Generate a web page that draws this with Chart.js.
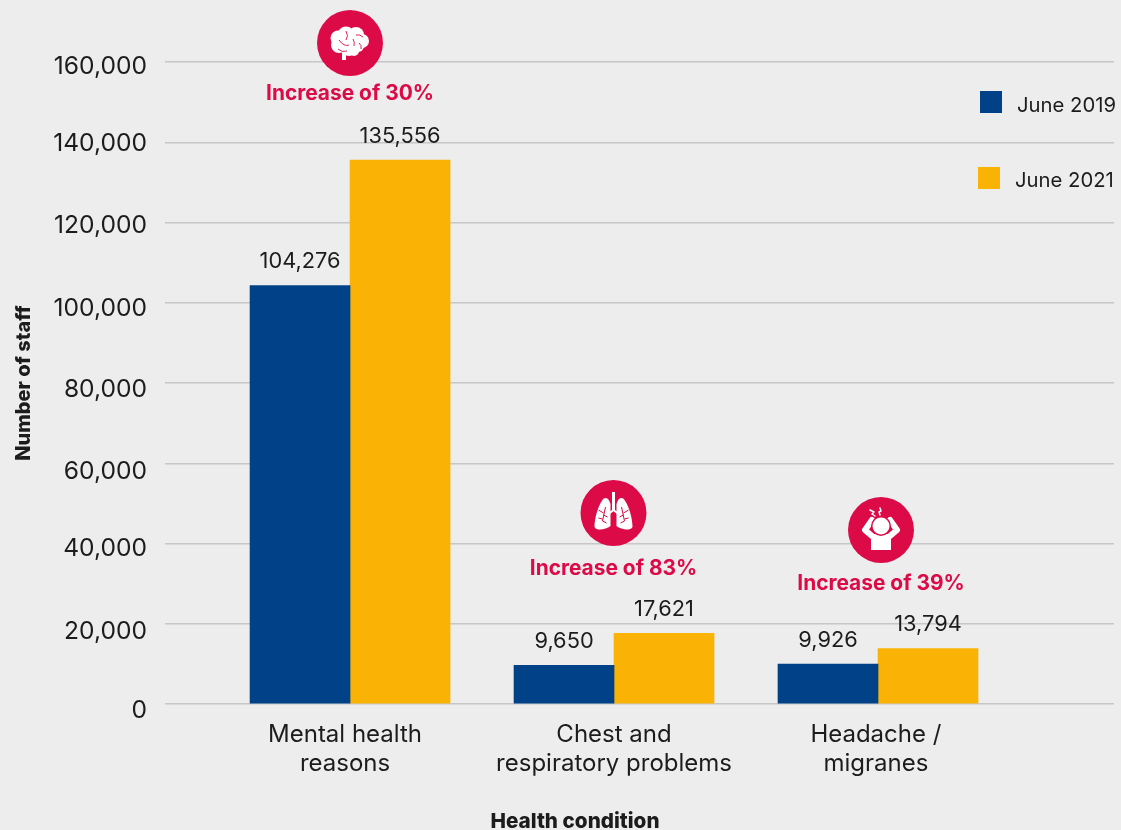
<!DOCTYPE html>
<html>
<head>
<meta charset="utf-8">
<title>Staff absence by health condition</title>
<script src="https://cdn.jsdelivr.net/npm/chart.js@4"></script>
<style>
    html, body { margin: 0; padding: 0; background: #ededed; overflow: hidden; }
    canvas { display: block; }
</style>
</head>
<body>
<canvas id="myChart" width="1121" height="830"></canvas>
<script>
const categories = [['Mental health', 'reasons'], ['Chest and', 'respiratory problems'], ['Headache /', 'migranes']];
const values2019 = [104276, 9650, 9926];
const values2021 = [135556, 17621, 13794];
const increases = ['Increase of 30%', 'Increase of 83%', 'Increase of 39%'];

const FONT = 'Inter, "Noto Sans", sans-serif';
const TEXT = '#1c1c1c';
const RED = '#dc0a47';
const NAVY = '#004187';
const GOLD = '#fab305';

// Центры подписей по оси X и сдвиг подписей оси Y вниз, снизу вверх
const xTickPositions = [0.981, 2, 2.992];
const yTickNudge = [7, 8, 5, 8, 7, 6, 3, 1, 5];

// Иконки рисуются относительно центра круга
function drawBrain(c) {
    c.fillStyle = '#fff';
    const blobs = [[-12, -5, 7.5], [-4, -8, 8.5], [6, -8, 8], [12, -2, 7], [-11, 2, 8], [0, 0, 10], [8, 3, 6], [-1, 6, 7], [4, 8, 5]];
    blobs.forEach(([x, y, r]) => { c.beginPath(); c.arc(x, y, r, 0, Math.PI * 2); c.fill(); });
    c.fillRect(-8, 8, 4, 9);
    c.strokeStyle = RED;
    c.lineWidth = 0.9;
    [[-11, -3, -6, 4, -1, 2], [-4, -12, -1, -7, -4, -3], [6, -8, 10, -9, 13, -6], [4, 3, 5, -1, 3, -4], [9, 0, 12, 2, 11, 6], [-12, 6, -8, 10, -3, 8]]
        .forEach(([a, b, d, e, f, g]) => {
            c.beginPath(); c.moveTo(a, b); c.quadraticCurveTo(d, e, f, g); c.stroke();
        });
}

function drawLungs(c) {
    c.fillStyle = '#fff';
    c.fillRect(-1.5, -21, 3, 18);
    [-1, 1].forEach((side) => {
        c.beginPath();
        c.moveTo(side * 3, -9);
        c.bezierCurveTo(side * 5, -16, side * 9, -16, side * 11, -13);
        c.bezierCurveTo(side * 16, -6, side * 19, 6, side * 19, 14);
        c.bezierCurveTo(side * 17, 18, side * 8, 17, side * 3, 13);
        c.closePath();
        c.fill();
        c.strokeStyle = '#fff';
        c.lineWidth = 2;
        c.beginPath(); c.moveTo(0, -3); c.lineTo(side * 5, 1); c.stroke();
        c.strokeStyle = RED;
        c.lineWidth = 1;
        c.beginPath();
        c.moveTo(side * 8, -6); c.lineTo(side * 11, 8);
        c.moveTo(side * 10, 0); c.lineTo(side * 15, -3);
        c.moveTo(side * 10, 2); c.lineTo(side * 6, 4);
        c.moveTo(side * 11, 6); c.lineTo(side * 15, 5);
        c.moveTo(side * 11, 8); c.lineTo(side * 7, 10);
        c.stroke();
    });
}

function drawHeadache(c) {
    c.fillStyle = '#fff';
    c.strokeStyle = '#fff';
    c.lineCap = 'round';
    c.lineJoin = 'round';
    c.fillRect(-10, 4, 20, 16);
    c.lineWidth = 6;
    c.beginPath(); c.moveTo(-9, 6); c.lineTo(-16, 0); c.lineTo(-9, -10); c.stroke();
    c.beginPath(); c.moveTo(9, 6); c.lineTo(16, 0); c.lineTo(9, -10); c.stroke();
    c.fillStyle = RED;
    c.beginPath(); c.arc(0, -4, 10, 0, Math.PI * 2); c.fill();
    c.fillStyle = '#fff';
    c.beginPath(); c.arc(0, -4, 8.5, 0, Math.PI * 2); c.fill();
    c.strokeStyle = '#fff';
    c.lineWidth = 1.5;
    c.beginPath();
    c.moveTo(-11, -20); c.lineTo(-7, -18); c.lineTo(-9, -16); c.lineTo(-6, -14);
    c.moveTo(-1, -22); c.lineTo(0, -19); c.lineTo(-2, -18); c.lineTo(-1, -15);
    c.stroke();
}

const badges = [
    { x: 350, y: 43, textY: 94, icon: drawBrain },
    { x: 613.5, y: 513, textY: 569, icon: drawLungs },
    { x: 881, y: 530, textY: 584, icon: drawHeadache },
];
const legendRows = [
    { boxX: 980, boxY: 91, textX: 1017, textY: 106 },
    { boxX: 978, boxY: 167, textX: 1015, textY: 181 },
];

// Подписи значений над столбцами, значки, легенда и подпись оси X
const overlays = {
    id: 'overlays',
    afterDatasetsDraw(chart) {
        const c = chart.ctx;
        c.save();
        c.textBaseline = 'middle';

        c.font = `21.8px ${FONT}`;
        c.fillStyle = TEXT;
        c.textAlign = 'center';
        chart.data.datasets.forEach((ds, i) => {
            chart.getDatasetMeta(i).data.forEach((bar, j) => {
                c.fillText(ds.data[j].y.toLocaleString('en-US'), bar.x, bar.y - 24);
            });
        });

        badges.forEach((b, i) => {
            c.fillStyle = RED;
            c.beginPath();
            c.arc(b.x, b.y, 33, 0, Math.PI * 2);
            c.fill();
            c.save();
            c.translate(b.x, b.y);
            b.icon(c);
            c.restore();
            c.fillStyle = RED;
            c.font = `bold 20.9px ${FONT}`;
            c.textAlign = 'center';
            c.fillText(increases[i], b.x, b.textY);
        });

        c.font = `20.3px ${FONT}`;
        c.textAlign = 'left';
        chart.data.datasets.forEach((ds, i) => {
            const row = legendRows[i];
            c.fillStyle = ds.backgroundColor;
            c.fillRect(row.boxX, row.boxY, 22, 22);
            c.fillStyle = TEXT;
            c.fillText(ds.label, row.textX, row.textY);
        });

        c.font = `800 20.7px ${FONT}`;
        c.textAlign = 'center';
        c.fillStyle = TEXT;
        c.fillText('Health condition', 575, 822);
        c.restore();
    },
};

new Chart(document.getElementById('myChart').getContext('2d'), {
    type: 'bar',
    data: {
        datasets: [
            { label: 'June 2019', data: values2019.map((y, i) => ({ x: i + 1, y })), backgroundColor: NAVY },
            { label: 'June 2021', data: values2021.map((y, i) => ({ x: i + 1, y })), backgroundColor: GOLD },
        ],
    },
    plugins: [overlays],
    options: {
        responsive: false,
        animation: false,
        layout: { padding: { top: 62, right: 7, left: 0, bottom: 0 } },
        datasets: { bar: { barThickness: 100 } },
        plugins: { legend: { display: false }, tooltip: { enabled: false }, title: { display: false } },
        scales: {
            x: {
                type: 'linear',
                offset: false,
                min: 0.299,
                max: 3.894,
                grid: { display: false },
                border: { display: false },
                afterBuildTicks: (axis) => { axis.ticks = xTickPositions.map((value) => ({ value })); },
                afterFit: (axis) => { axis.height = 126; },
                ticks: {
                    autoSkip: false,
                    maxRotation: 0,
                    padding: 8,
                    color: TEXT,
                    font: { family: FONT, size: 24, lineHeight: '29px' },
                    callback: (v, i) => categories[i],
                },
            },
            y: {
                min: 0,
                max: 160000,
                afterFit: (axis) => { axis.width = 165; },
                border: { display: false },
                grid: { color: '#c6c6cb', lineWidth: 1.5, drawTicks: false },
                ticks: {
                    stepSize: 20000,
                    padding: 18,
                    color: TEXT,
                    // пустая первая строка опускает число на половину высоты строки
                    font: (ctx) => ({ family: FONT, size: 24.6, lineHeight: `${yTickNudge[ctx.index] * 2}px` }),
                    callback: (v) => ['', v.toLocaleString('en-US')],
                },
                title: {
                    display: true,
                    text: 'Number of staff',
                    color: TEXT,
                    font: { family: FONT, size: 20, weight: 800 },
                    padding: { top: 12, bottom: 0 },
                },
            },
        },
    },
});
</script>
</body>
</html>
